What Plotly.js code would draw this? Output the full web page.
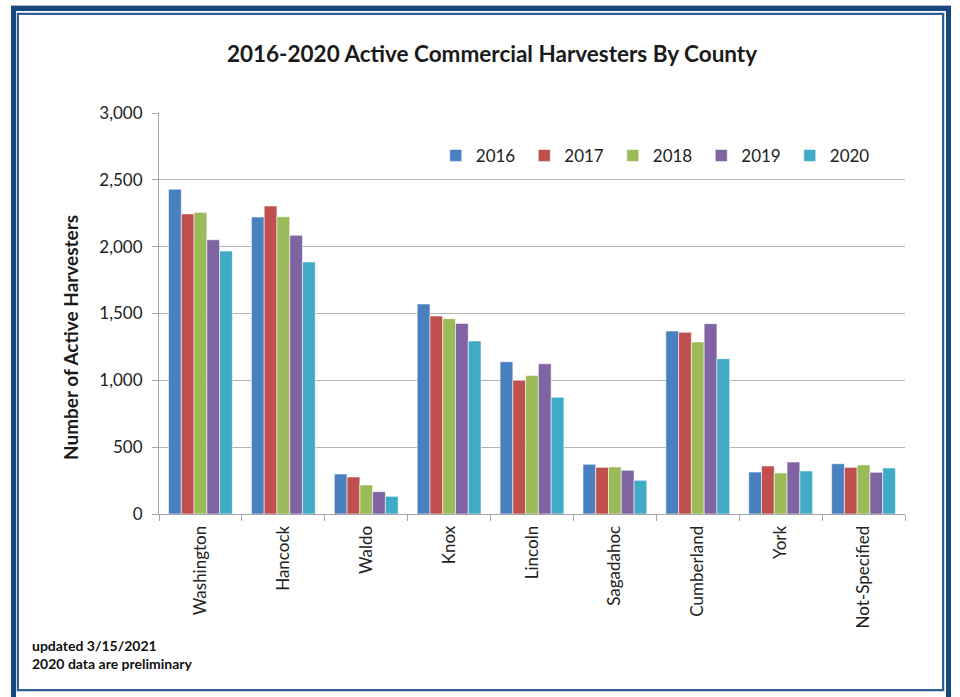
<!DOCTYPE html>
<html>
<head>
<meta charset="utf-8">
<script src="https://cdn.plot.ly/plotly-3.0.1.min.js"></script>
<style>
  html, body { margin: 0; padding: 0; background: #ffffff; }
  #wrap { position: relative; width: 960px; height: 697px; overflow: hidden; }
  #chart { position: absolute; left: 0; top: 0; width: 960px; height: 697px; }
  #outer { position: absolute; left: 11px; top: 6px; width: 930px; height: 700px;
           border: 5px solid #16477F; box-shadow: 0 -1px 0 #AAB4C2; pointer-events: none; }
  #inner { position: absolute; left: 17px; top: 13px; width: 923px; height: 674px;
           border: 2px solid #2F5F96; outline: 1px solid #C9D2DD; pointer-events: none; }
</style>
</head>
<body>
<div id="wrap">
  <div id="chart"></div>
  <div id="outer"></div>
  <div id="inner"></div>
</div>
<script>
const counties = ["Washington", "Hancock", "Waldo", "Knox", "Lincoln", "Sagadahoc", "Cumberland", "York", "Not-Specified"];
const years = ["2016", "2017", "2018", "2019", "2020"];
const v2016 = [2430, 2222, 299, 1571, 1139, 372, 1369, 314, 376];
const v2017 = [2245, 2304, 277, 1481, 1000, 349, 1359, 359, 349];
const v2018 = [2255, 2224, 217, 1461, 1037, 352, 1287, 307, 367];
const v2019 = [2052, 2085, 167, 1426, 1124, 327, 1424, 389, 312];
const v2020 = [1967, 1885, 132, 1294, 873, 252, 1162, 322, 344];
const yTicks = [0, 500, 1000, 1500, 2000, 2500, 3000];
const yTickText = ["0", "500", "1,000", "1,500", "2,000", "2,500", "3,000"];

const seriesValues = [v2016, v2017, v2018, v2019, v2020];
const colors = ["#4A7FC0", "#C0504D", "#9BBB59", "#8064A2", "#41AAC6"];

const FONT = "Lato, 'Open Sans', sans-serif";

const traces = years.map((y, i) => ({
  type: "bar",
  name: y,
  x: counties,
  y: seriesValues[i],
  marker: { color: colors[i], line: { color: "rgba(255,255,255,0.55)", width: 1 } },
  hoverinfo: "x+y+name"
}));

const layout = {
  width: 960,
  height: 697,
  margin: { l: 159, r: 55, t: 113, b: 183 },
  paper_bgcolor: "#ffffff",
  plot_bgcolor: "#ffffff",
  font: { family: FONT, color: "#222222", size: 17 },
  title: {
    text: "<b>2016-2020 Active Commercial Harvesters By County</b>",
    font: { family: FONT, size: 22.5, color: "#1a1a1a" },
    xref: "container", x: 0.5125, xanchor: "center",
    yref: "container", y: 1 - 54 / 697, yanchor: "middle"
  },
  barmode: "group",
  bargap: 0.23,
  bargroupgap: 0,
  showlegend: true,
  legend: {
    orientation: "h",
    x: 0.371, xanchor: "left",
    y: 0.893, yanchor: "middle",
    entrywidth: 43.5, entrywidthmode: "pixels",
    font: { family: FONT, size: 17, color: "#222222" },
    bgcolor: "rgba(0,0,0,0)",
    traceorder: "normal"
  },
  xaxis: {
    type: "category",
    tickangle: -90,
    ticks: "outside",
    tickson: "boundaries",
    ticklen: 6,
    tickcolor: "#A6A6A6",
    showline: true,
    linecolor: "#A6A6A6",
    linewidth: 1,
    showgrid: false,
    tickfont: { family: FONT, size: 17, color: "#222222" },
    ticklabelstandoff: 4
  },
  yaxis: {
    range: [0, 3000],
    tickvals: yTicks,
    ticktext: yTickText,
    ticks: "outside",
    ticklen: 6,
    tickcolor: "#A6A6A6",
    showline: true,
    linecolor: "#A6A6A6",
    linewidth: 1,
    showgrid: true,
    gridcolor: "#B4B4B4",
    gridwidth: 1,
    zeroline: false,
    tickfont: { family: FONT, size: 17, color: "#222222" },
    ticklabelstandoff: 6
  },
  annotations: [
    {
      text: "<b>Number of Active Harvesters</b>",
      textangle: -90,
      xref: "paper", yref: "paper",
      x: (70 - 159) / 746, y: (514 - 338) / 401,
      xanchor: "center", yanchor: "middle",
      showarrow: false,
      font: { family: FONT, size: 19, color: "#1a1a1a" }
    },
    {
      text: "<b>updated 3/15/2021</b>",
      xref: "paper", yref: "paper",
      x: (30 - 159) / 746, y: (514 - 645) / 401,
      xanchor: "left", yanchor: "middle",
      showarrow: false,
      font: { family: FONT, size: 14, color: "#111111" }
    },
    {
      text: "<b>2020 data are preliminary</b>",
      xref: "paper", yref: "paper",
      x: (30 - 159) / 746, y: (514 - 663) / 401,
      xanchor: "left", yanchor: "middle",
      showarrow: false,
      font: { family: FONT, size: 14, color: "#111111" }
    }
  ]
};

Plotly.newPlot("chart", traces, layout, { displayModeBar: false, staticPlot: true });
</script>
</body>
</html>
